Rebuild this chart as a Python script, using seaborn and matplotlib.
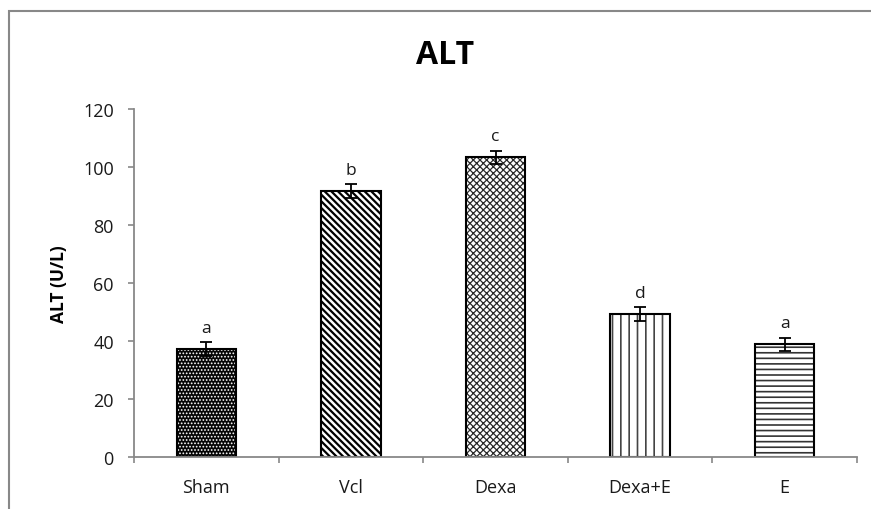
import numpy as np
import pandas as pd
import seaborn as sns
import matplotlib
matplotlib.use('Agg')
import matplotlib.pyplot as plt
from matplotlib.patches import Rectangle

groups = ["Sham", "Vcl", "Dexa", "Dexa+E", "E"]
alt_values = [37.2, 91.7, 103.3, 49.3, 38.9]
alt_err = [2.3, 2.3, 2.3, 2.3, 2.3]
letters = ["a", "b", "c", "d", "a"]

sns.set_style("white")
plt.rcParams['font.family'] = ['Open Sans', 'DejaVu Sans']
plt.rcParams['hatch.linewidth'] = 1.3
plt.rcParams['text.color'] = 'black'
plt.rcParams['axes.labelcolor'] = 'black'
plt.rcParams['xtick.labelcolor'] = '#1a1a1a'
plt.rcParams['ytick.labelcolor'] = '#1a1a1a'

df = pd.DataFrame({"group": groups, "alt": alt_values})

fig = plt.figure(figsize=(8.71, 5.10), dpi=100)
ax = fig.add_axes([134 / 871, 1 - 458 / 510, (857 - 134) / 871, (458 - 110) / 510])

sns.barplot(data=df, x="group", y="alt", order=groups, width=0.41,
            color="white", errorbar=None, ax=ax)

# fill / hatch colour / hatch / hatch width per bar
styles = [
    ("#050505", "white", ".....", 0.8),
    ("white", "black", "\\" * 5, 1.6),
    ("white", "#2a2a2a", "xxxxx", 0.9),
    ("white", "#444444", "||", 1.2),
    ("white", "#333333", "---", 1.2),
]
for patch, (fc, hc, h, hw) in zip(ax.patches, styles):
    patch.set_facecolor(fc)
    patch.set_edgecolor(hc)
    patch.set_hatch(h)
    if hasattr(patch, "set_hatch_linewidth"):
        patch.set_hatch_linewidth(hw)
    patch.set_linewidth(0)
    ax.add_patch(Rectangle((patch.get_x(), patch.get_y()), patch.get_width(),
                           patch.get_height(), fill=False, edgecolor="black",
                           linewidth=1.5, zorder=patch.get_zorder() + 0.1))

x = np.arange(len(groups))
ax.errorbar(x, alt_values, yerr=alt_err, fmt="none", ecolor="black",
            elinewidth=1.3, capsize=4.5, capthick=1.3, zorder=5)

for xi, v, e, lab in zip(x, alt_values, alt_err, letters):
    ax.text(xi, v + e + 2.3, lab, ha="center", va="bottom", fontsize=12.5,
            color="#1a1a1a")

ax.set_ylim(0, 120)
ax.set_xlim(-0.5, len(groups) - 0.5)
ax.set_yticks(range(0, 121, 20))
ax.set_xticks(np.arange(-0.5, len(groups), 1.0))
ax.set_xticklabels([])
ax.set_xticks(x, minor=True)
ax.set_xticklabels(groups, minor=True)
ax.tick_params(axis="x", which="major", length=4.5, width=1.2, color="#888888", direction="out", bottom=True)
ax.tick_params(axis="x", which="minor", length=0, pad=15, labelsize=13)
ax.tick_params(axis="y", length=4.5, width=1.2, color="#888888", direction="out", left=True, labelsize=13, pad=10)

for s in ["top", "right"]:
    ax.spines[s].set_visible(False)
for s in ["left", "bottom"]:
    ax.spines[s].set_color("#888888")
    ax.spines[s].set_linewidth(1.3)

ax.set_xlabel("")
ax.set_ylabel("ALT (U/L)", fontsize=12.5, fontweight="bold", labelpad=11)
fig.text(445 / 871, 1 - 55 / 510, "ALT", ha="center", va="center",
         fontsize=23, fontweight="bold", color="black")

# chart area border
fig.patches.append(Rectangle((9 / 871, -0.2), 1.2, 1.2 - 12 / 510,
                             transform=fig.transFigure, fill=False,
                             edgecolor="#888888", linewidth=1.5))

fig.savefig("out.png", dpi=100)
